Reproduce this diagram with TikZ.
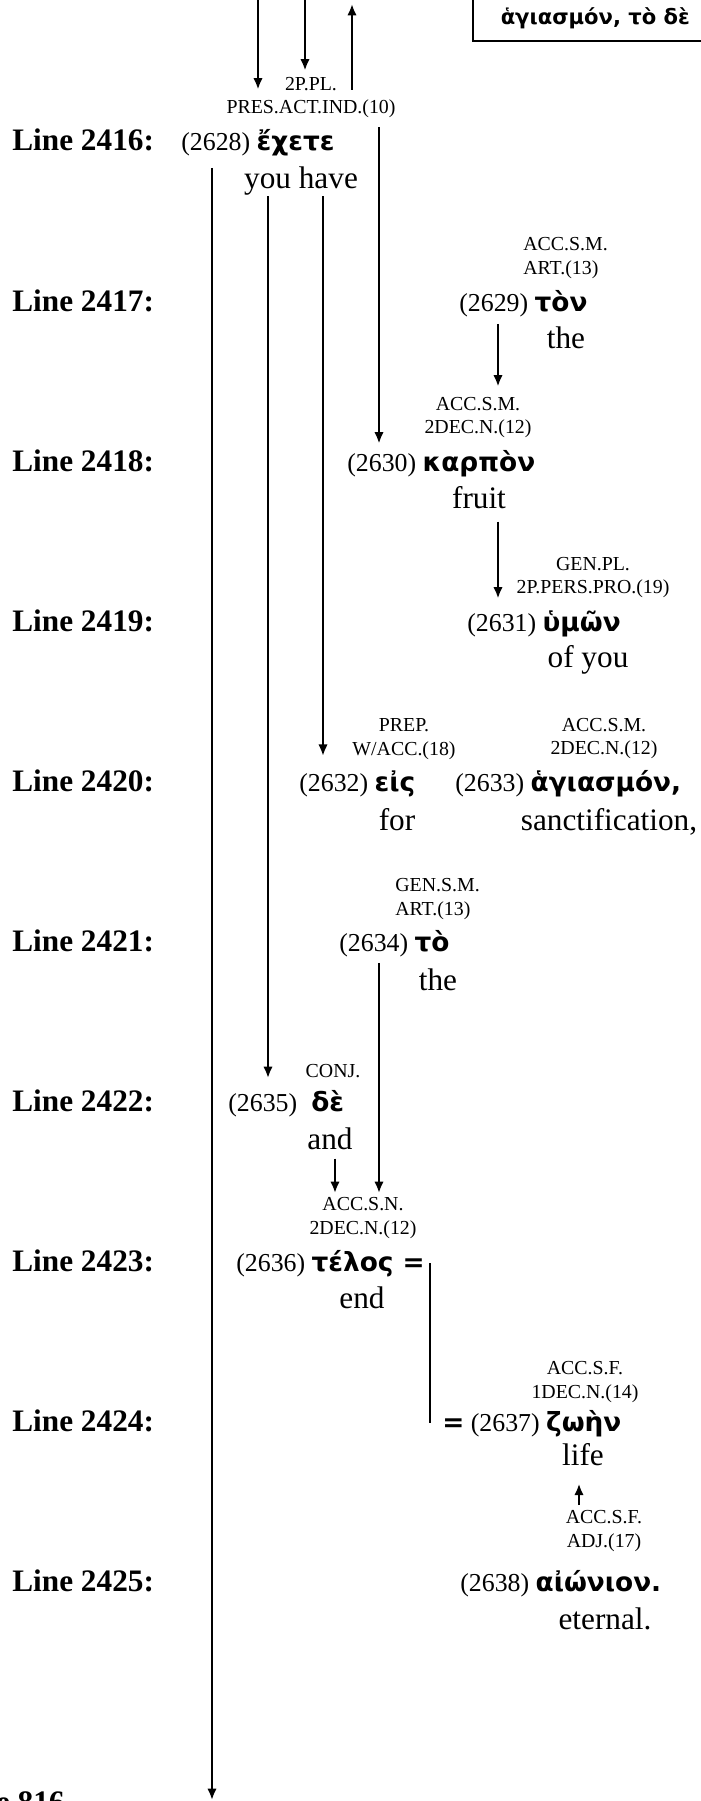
\documentclass[tikz,border=0pt]{standalone}
\usepackage{fontspec}
\setmainfont{Liberation Serif}
\newfontfamily\grk{DejaVu Sans}
\usetikzlibrary{arrows.meta, calc}

\newcommand\gk[1]{{\grk\bfseries\fontsize{15}{18}\selectfont #1}}

\begin{document}
\begin{tikzpicture}[x=0.02cm, y=-0.02cm,
  >={Latex[length=6.5pt,width=5.4pt]},
  lineno/.style={anchor=base west, inner sep=0pt, font=\fontsize{17.8}{20}\selectfont\bfseries},
  wordtx/.style={anchor=base west, inner sep=0pt, font=\fontsize{14.7}{17}\selectfont},
  glosstx/.style={anchor=base, inner sep=0pt, font=\fontsize{17.8}{20}\selectfont},
  tagtx/.style={inner sep=0pt, align=center, font=\fontsize{11.3}{13.6}\selectfont},
  link/.style={->, line width=1.3pt},
  eqbar/.style={line width=0.8pt}]

\useasboundingbox (0,0) rectangle (700,1801);

% caixa no topo
\node[draw, line width=0.9pt, anchor=south west, minimum width=139.5pt, minimum height=26pt,
  inner sep=0pt, font=\grk\bfseries\fontsize{12}{14}\selectfont] (topbox) at (472,42) {ἁγιασμόν, τὸ δὲ};

% linhas
\node[lineno] (l2416) at (12,151) {Line 2416:};
\node[lineno] (l2417) at (12,311) {Line 2417:};
\node[lineno] (l2418) at (12,471) {Line 2418:};
\node[lineno] (l2419) at (12,631) {Line 2419:};
\node[lineno] (l2420) at (12,791) {Line 2420:};
\node[lineno] (l2421) at (12,951) {Line 2421:};
\node[lineno] (l2422) at (12,1111) {Line 2422:};
\node[lineno] (l2423) at (12,1271) {Line 2423:};
\node[lineno] (l2424) at (12,1431) {Line 2424:};
\node[lineno] (l2425) at (12,1591) {Line 2425:};
\node[lineno, anchor=base east] (pgno) at (65,1812) {re 816};

% palavras
\node[wordtx] (w2628) at (181,151) {(2628) \gk{ἔχετε}};
\node[wordtx] (w2629) at (459,311) {(2629) \gk{τὸν}};
\node[wordtx] (w2630) at (347,471) {(2630) \gk{καρπὸν}};
\node[wordtx] (w2631) at (467,631) {(2631) \gk{ὑμῶν}};
\node[wordtx] (w2632) at (299,791) {(2632) \gk{εἰς}};
\node[wordtx] (w2633) at (455,791) {(2633) \gk{ἁγιασμόν,}};
\node[wordtx] (w2634) at (339,951) {(2634) \gk{τὸ}};
\node[wordtx] (w2635) at (228,1111) {(2635)\hspace{8pt}\gk{δὲ}};
\node[wordtx] (w2636) at (236,1271) {(2636) \gk{τέλος =}};
\node[wordtx] (w2637) at (442,1431) {\gk{=} (2637) \gk{ζωὴν}};
\node[wordtx] (w2638) at (460,1591) {(2638) \gk{αἰώνιον.}};

% traduções
\node[glosstx] (g2628) at (301,189) {you have};
\node[glosstx] (g2629) at (566,348) {the};
\node[glosstx] (g2630) at (479,508) {fruit};
\node[glosstx] (g2631) at (588,667) {of you};
\node[glosstx] (g2632) at (397,830) {for};
\node[glosstx] (g2633) at (609,830) {sanctification,};
\node[glosstx] (g2634) at (438,990) {the};
\node[glosstx] (g2635) at (330,1149) {and};
\node[glosstx] (g2636) at (362,1308) {end};
\node[glosstx] (g2637) at (583,1465) {life};
\node[glosstx] (g2638) at (605,1629) {eternal.};

% gramática
\node[tagtx] (t2628) at (311,97.5) {2P.PL.\\PRES.ACT.IND.(10)};
\node[tagtx, align=left, anchor=west] (t2629) at (523,258) {ACC.S.M.\\ART.(13)};
\node[tagtx] (t2630) at (478,417.5) {ACC.S.M.\\2DEC.N.(12)};
\node[tagtx] (t2631) at (593,577.5) {GEN.PL.\\2P.PERS.PRO.(19)};
\node[tagtx] (t2632) at (404,739) {PREP.\\W/ACC.(18)};
\node[tagtx] (t2633) at (604,738.5) {ACC.S.M.\\2DEC.N.(12)};
\node[tagtx, align=left, anchor=west] (t2634) at (395,899) {GEN.S.M.\\ART.(13)};
\node[tagtx] (t2635) at (333,1071) {CONJ.};
\node[tagtx] (t2636) at (363,1218) {ACC.S.N.\\2DEC.N.(12)};
\node[tagtx] (t2637) at (585,1382) {ACC.S.F.\\1DEC.N.(14)};
\node[tagtx] (t2638) at (604,1531) {ACC.S.F.\\ADJ.(17)};

% setas
\coordinate (inA) at (258,-5);
\coordinate (inB) at (305,-5);
\coordinate (outC) at (352,4);
\coordinate (outE) at (212,1800);
\coordinate (colD) at (379,0);
\coordinate (colF) at (268,0);
\coordinate (colG) at (323,0);
\coordinate (colH) at (498,0);
\coordinate (colK) at (335,0);
\coordinate (colL) at (430,0);
\coordinate (colM) at (579,0);

\draw[link] (inA) -- ($(t2628.north -| inA)+(0,13)$);
\draw[link] (inB) -- ($(t2628.north -| inB)+(0,-6)$);
\draw[link] ($(t2628.north -| outC)+(0,13)$) -- (outC);
\draw[link] ($(t2628.south -| colD)+(0,9)$) -- ($(w2630.north -| colD)+(0,-6)$);
\draw[link] ($(w2628.south -| outE)+(0,11)$) -- (outE);
\draw[link] (g2628.south -| colF) -- (t2635.south -| colF);
\draw[link] (g2628.south -| colG) -- ($(t2632.south -| colG)+(0,-4)$);
\draw[link] ($(w2629.south -| colH)+(0,7)$) -- ($(t2630.north -| colH)+(0,-10)$);
\draw[link] ($(g2630.south -| colH)+(0,13)$) -- (t2631.south -| colH);
\draw[link] ($(w2634.south -| colD)+(0,6)$) -- ($(t2636.north -| colD)+(0,-4)$);
\draw[link] ($(g2635.south -| colK)+(0,9)$) -- ($(t2636.north -| colK)+(0,-4)$);
\draw[eqbar] (w2636.east -| colL) -- (w2637.west -| colL);
\draw[link] ($(t2638.north -| colM)+(0,-5)$) -- ($(g2637.south -| colM)+(0,18)$);

\end{tikzpicture}
\end{document}
